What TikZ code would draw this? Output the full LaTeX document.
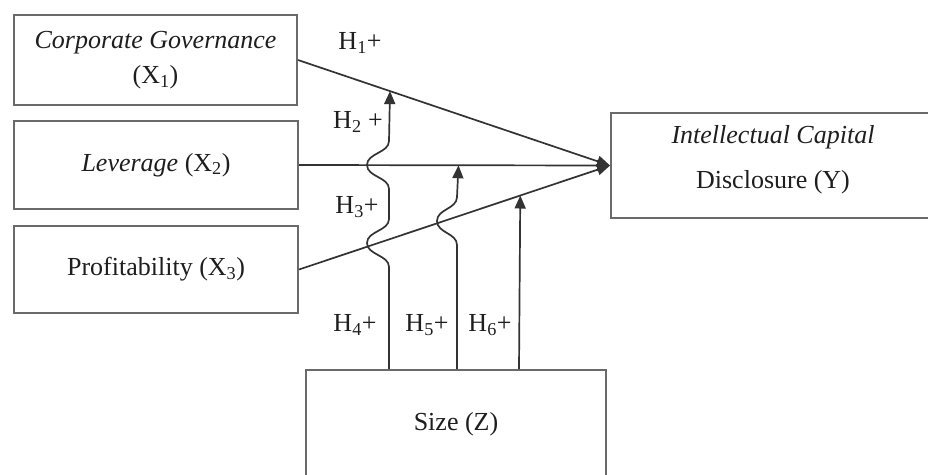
\documentclass[tikz,border=0pt]{standalone}
\usepackage{fontspec}
\setmainfont{Liberation Serif}
\usetikzlibrary{arrows.meta,calc}
\definecolor{txt}{HTML}{1E1E1E}
\definecolor{lin}{HTML}{333333}
\definecolor{brd}{HTML}{6A6A6A}
\begin{document}
\begin{tikzpicture}[x=1pt,y=-1pt,
  every node/.style={font=\fontsize{26}{35}\selectfont,text=txt},
  box/.style={draw=brd,line width=2pt,fill=white,align=center,inner sep=0pt},
  lbl/.style={align=center,inner sep=0pt},
  conn/.style={draw=lin,line width=1.7pt,-{Triangle[length=13pt,width=11pt]}}]
\useasboundingbox (0,0) rectangle (928,474);
\clip (0,0) rectangle (928,474);
\fill[white] (0,0) rectangle (928,474);
% boxes
\node[box,minimum width=283pt,minimum height=90pt] (X1) at (155.5,60)
  {\textit{Corporate Governance}\\(X\textsubscript{1})};
\node[box,minimum width=284pt,minimum height=88pt] (X2) at (156,165)
  {\textit{Leverage} (X\textsubscript{2})};
\node[box,minimum width=284pt,minimum height=87pt] (X3) at (156,269.5)
  {Profitability (X\textsubscript{3})};
\node[box,minimum width=324pt,minimum height=105pt] (Y) at (773,165.5) {};
\node[lbl] (Ytext) at (773,159.5)
  {\textit{Intellectual Capital}\\[10pt]Disclosure (Y)};
\node[box,minimum width=300pt,minimum height=108pt] (Z) at (456,424) {Size (Z)};
% direct paths
\draw[conn] (X1.east) -- (Y.west);
\draw[conn] (X2.east) -- (Y.west);
\draw[conn] (X3.east) -- (Y.west);
% moderation paths
\coordinate (v1s) at ($(Z.north west)+(84,0)$);
\coordinate (v2s) at ($(Z.north west)+(152,0)$);
\coordinate (v3s) at ($(Z.north west)+(214,0)$);
\coordinate (v1e) at ($(X1.east)!0.2949!(Y.west)$);
\coordinate (v2e) at ($(X2.east)!0.5128!(Y.west)$);
\coordinate (v3e) at ($(X3.east)!0.7115!(Y.west)$);
\draw[conn] (v1s) -- ++(0,-102)
  .. controls +(0,-12) and +(0,12) .. ++(-22,-24)
  .. controls +(0,-12) and +(0,12) .. ++(22,-24)
  -- ++(0,-30)
  .. controls +(0,-12) and +(0,12) .. ++(-22,-24)
  .. controls +(0,-12) and +(0,12) .. ++(22,-24)
  -- (v1e);
\draw[conn] (v2s) -- ++(0,-124)
  .. controls +(0,-12) and +(0,12) .. ++(-20,-24)
  .. controls +(0,-12) and +(0,12) .. ++(20,-24)
  -- (v2e);
\draw[conn] (v3s) -- (v3e);
% hypothesis labels
\node[lbl] (H1) at (360,43) {H\textsubscript{1}+};
\node[lbl] (H2) at (358,122) {H\textsubscript{2} +};
\node[lbl] (H3) at (357,207) {H\textsubscript{3}+};
\node[lbl] (H4) at (355,325) {H\textsubscript{4}+};
\node[lbl] (H5) at (427,325) {H\textsubscript{5}+};
\node[lbl] (H6) at (490,325) {H\textsubscript{6}+};
\end{tikzpicture}
\end{document}
